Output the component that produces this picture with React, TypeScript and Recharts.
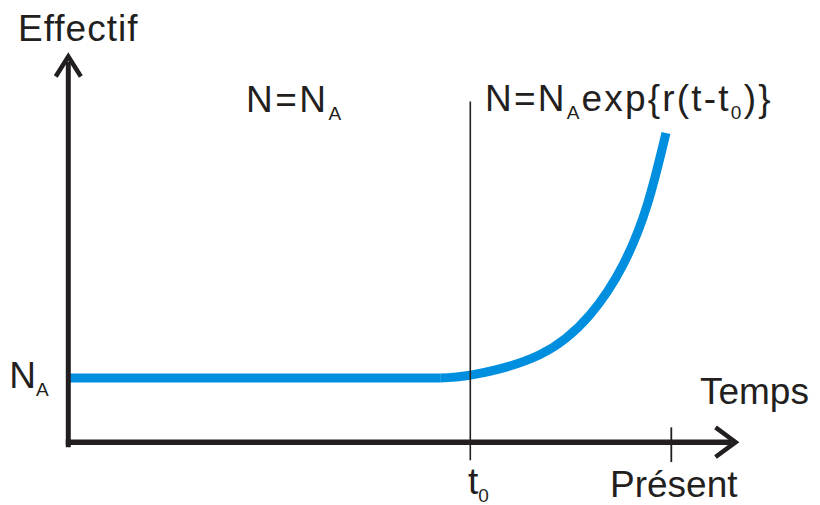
import { LineChart, Line, XAxis, YAxis, ReferenceLine, ReferenceDot } from 'recharts'

document.body.style.margin = '0'

// constant size N_A before t0
const flatTimes = [0, 10, 20, 30, 37]
const flatSizes = [1, 1, 1, 1, 1]
// growth after t0
const growthTimes = [37, 40.3, 46.9, 51.9, 55.2, 57.6, 59.47]
const growthSizes = [1.0, 1.05, 1.36, 1.98, 2.76, 3.69, 4.81]

const T0 = 40
const PRESENT = 60

// axis arrows (time units / N_A units)
const yAxisPts = [{ t: 0, n: -0.08 }, { t: 0, n: 5.92 }]
const yArrowPts = [{ t: -1.25, n: 5.69 }, { t: 0, n: 6 }, { t: 1.25, n: 5.69 }]
const xAxisPts = [{ t: -0.25, n: 0 }, { t: 66.0, n: 0 }]
const xArrowPts = [{ t: 64.4, n: 0.23 }, { t: 66.4, n: 0 }, { t: 64.4, n: -0.23 }]

const flat = flatTimes.map((t, i) => ({ t, n: flatSizes[i] }))
const growth = growthTimes.map((t, i) => ({ t, n: growthSizes[i] }))

const ink = '#231f20'
const blue = '#008fdf'
const font = '"Liberation Sans", Arial, sans-serif'

type Part = { s: string; sub?: boolean }

const labels: { t: number; n: number; parts: Part[]; spacing?: number }[] = [
  { t: -5.0, n: 6.24, parts: [{ s: 'Effectif' }], spacing: 1 },
  { t: -5.87, n: 0.84, parts: [{ s: 'N' }, { s: 'A', sub: true }] },
  { t: 62.85, n: 0.59, parts: [{ s: 'Temps' }] },
  { t: 39.77, n: -0.81, parts: [{ s: 't' }, { s: '0', sub: true }] },
  { t: 53.9, n: -0.85, parts: [{ s: 'Présent' }] },
  { t: 17.68, n: 5.14, parts: [{ s: 'N=N' }, { s: 'A', sub: true }], spacing: 2.5 },
  {
    t: 41.46,
    n: 5.15,
    parts: [{ s: 'N=N' }, { s: 'A', sub: true }, { s: 'exp{r(t-t' }, { s: '0', sub: true }, { s: ')}' }],
    spacing: 2.2,
  },
]

const textContent = (parts: Part[], spacing = 0) => (props: any) => {
  const vb = props.viewBox || props
  const x = vb.x + (vb.width || 0) / 2
  const y = vb.y + (vb.height || 0) / 2
  let shift = 0
  return (
    <text x={x} y={y} fill={ink} fontFamily={font} fontSize={37} letterSpacing={spacing}>
      {parts.map((p, i) => {
        const dy = p.sub ? 8 - shift : -shift
        shift = p.sub ? 8 : 0
        return (
          <tspan key={i} dy={dy} fontSize={p.sub ? 19 : 37}>
            {p.s}
          </tspan>
        )
      })}
    </text>
  )
}

export default function App() {
  return (
    <LineChart width={820} height={505} margin={{ top: 18, right: 8, bottom: 5, left: 8 }}>
      <XAxis type="number" dataKey="t" domain={[-6, 74]} hide allowDataOverflow />
      <YAxis type="number" dataKey="n" domain={[-0.9, 6.6]} hide allowDataOverflow />
      <Line data={flat} dataKey="n" type="linear" stroke={blue} strokeWidth={9} dot={false} activeDot={false} isAnimationActive={false} />
      <Line data={growth} dataKey="n" type="natural" stroke={blue} strokeWidth={9} dot={false} activeDot={false} isAnimationActive={false} />
      <ReferenceLine
        segment={[{ x: T0, y: -0.28 }, { x: T0, y: 5.3 }]}
        stroke={ink}
        strokeWidth={1.6}
        ifOverflow="visible"
      />
      <ReferenceLine
        segment={[{ x: PRESENT, y: -0.31 }, { x: PRESENT, y: 0.23 }]}
        stroke={ink}
        strokeWidth={1.8}
        ifOverflow="visible"
      />
      <Line data={yAxisPts} dataKey="n" type="linear" stroke={ink} strokeWidth={5} dot={false} activeDot={false} isAnimationActive={false} />
      <Line data={yArrowPts} dataKey="n" type="linear" stroke={ink} strokeWidth={4.5} strokeLinejoin="miter" dot={false} activeDot={false} isAnimationActive={false} />
      <Line data={xAxisPts} dataKey="n" type="linear" stroke={ink} strokeWidth={5.5} dot={false} activeDot={false} isAnimationActive={false} />
      <Line data={xArrowPts} dataKey="n" type="linear" stroke={ink} strokeWidth={4.5} strokeLinejoin="miter" dot={false} activeDot={false} isAnimationActive={false} />
      {labels.map((l, i) => (
        <ReferenceDot
          key={i}
          x={l.t}
          y={l.n}
          r={0}
          fill="none"
          stroke="none"
          ifOverflow="visible"
          label={{ content: textContent(l.parts, l.spacing) }}
        />
      ))}
    </LineChart>
  )
}
